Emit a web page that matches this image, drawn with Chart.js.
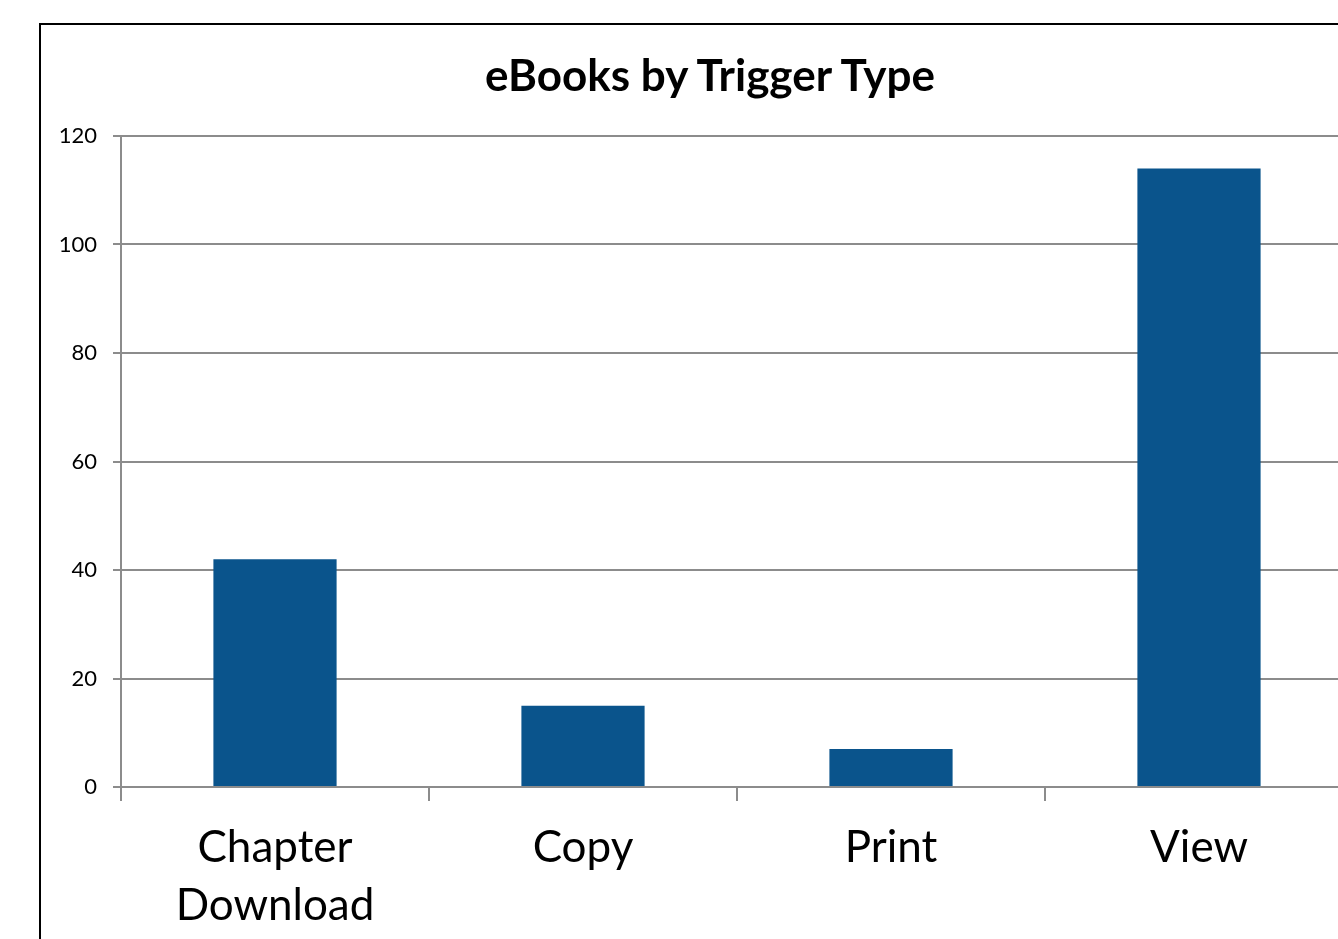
<!DOCTYPE html>
<html>
<head>
<meta charset="utf-8">
<script src="https://cdn.jsdelivr.net/npm/chart.js@4"></script>
<style>
  html, body { margin: 0; padding: 0; overflow: hidden; background: #fff; }
  #frame {
    position: absolute;
    left: 39px;
    top: 23px;
    border: 2px solid #000;
    width: 1338px;
    height: 914px;
  }
  #chart { display: block; }
  #title {
    position: absolute;
    left: 0;
    top: 23px;
    width: 1338px;
    text-align: center;
    font-family: 'Lato';
    font-weight: bold;
    font-size: 44px;
    line-height: 53px;
    color: #000;
  }
</style>
</head>
<body>
<div id="frame">
  <canvas id="chart" width="1338" height="914"></canvas>
  <div id="title"></div>
</div>
<script>
const chartTitle = 'eBooks by Trigger Type';
const categories = [['Chapter', 'Download'], 'Copy', 'Print', 'View'];
const counts = [42, 15, 7, 114];
const yMin = 0;
const yMax = 120;
const yStep = 20;

const barColor = '#0a548c';
const gridColor = '#8c8c8c';

document.getElementById('title').textContent = chartTitle;

const config = {
    type: 'bar',
    data: {
        labels: categories,
        datasets: [{
            label: 'eBooks',
            data: counts,
            backgroundColor: barColor,
            borderWidth: 0,
            categoryPercentage: 1,
            barPercentage: 0.4,
        }]
    },
    options: {
        responsive: false,
        animation: false,
        // title sits in the page above the canvas, so leave room for it here
        layout: {
            padding: { left: 0, right: 26, top: 111, bottom: 0 }
        },
        plugins: {
            legend: { display: false },
            tooltip: { enabled: false },
            title: { display: false }
        },
        scales: {
            x: {
                grid: {
                    offset: true,
                    drawOnChartArea: false,
                    drawTicks: true,
                    tickLength: 14,
                    color: gridColor,
                    lineWidth: 2
                },
                border: { display: true, color: gridColor, width: 2 },
                ticks: {
                    color: '#000',
                    padding: 18,
                    maxRotation: 0,
                    autoSkip: false,
                    font: { family: 'Lato', size: 44, lineHeight: 1.32 }
                },
                afterFit: function (scale) { scale.height = 914 - 762; }
            },
            y: {
                min: yMin,
                max: yMax,
                grid: {
                    color: gridColor,
                    lineWidth: 2,
                    drawTicks: true,
                    tickLength: 8
                },
                border: { display: true, color: gridColor, width: 2 },
                ticks: {
                    stepSize: yStep,
                    color: '#000',
                    padding: 16,
                    font: { family: 'Lato', size: 22 }
                },
                afterFit: function (scale) { scale.width = 80; }
            }
        }
    }
};

window.addEventListener('load', function () {
    new Chart(document.getElementById('chart'), config);
});
</script>
</body>
</html>
